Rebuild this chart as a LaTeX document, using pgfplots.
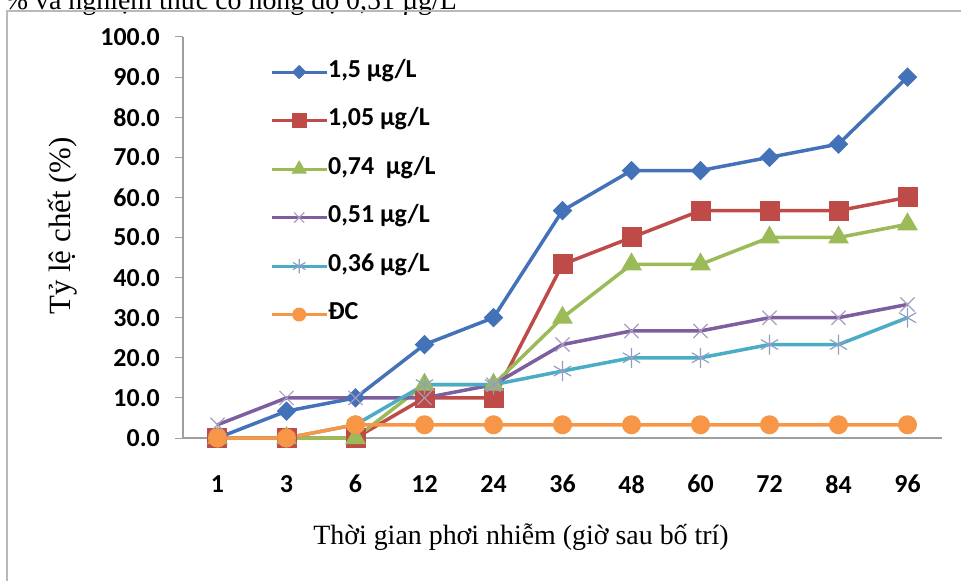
\documentclass[border=0pt]{standalone}
\usepackage{fontspec}
\setmainfont{Liberation Serif}
\newfontfamily\carlito{Carlito}
\usepackage{pgfplots}
\pgfplotsset{compat=1.18}
\definecolor{cblue}{HTML}{4472B8}
\definecolor{cred}{HTML}{BE4B48}
\definecolor{cgreen}{HTML}{9BBB59}
\definecolor{cpurple}{HTML}{7D5FA0}
\definecolor{ccyan}{HTML}{4BACC6}
\definecolor{corange}{HTML}{F79646}
\definecolor{xmark}{HTML}{A89CC0}
\begin{document}
\begin{tikzpicture}
\begin{scope}
\clip (-183bp,-143bp) rectangle (778bp,438bp);
\node[anchor=base east, inner sep=0pt, font=\fontsize{28}{30}\selectfont] at (274bp,428bp) {\% và nghiệm thức có nồng độ 0,51 µg/L};
\end{scope}
\draw[gray!55, line width=2bp] (-176bp,-143bp) -- (-176bp,427bp) -- (778bp,427bp);
\begin{axis}[
  at={(0,0)}, anchor=south west, scale only axis,
  width=759bp, height=401bp,
  xmin=-0.5, xmax=10.5, ymin=0, ymax=100,
  clip=false,
  axis lines*=left,
  axis line style={draw=gray!75, line width=1.2bp},
  xtick={0,...,10},
  xticklabels={1,3,6,12,24,36,48,60,72,84,96},
  xtick style={draw=none},
  ytick={0,10,...,100},
  ytick style={draw=gray!75, line width=1bp},
  tick align=outside, major tick length=8bp,
  /pgf/number format/assume math mode=true,
  /pgf/number format/fixed, /pgf/number format/fixed zerofill,
  /pgf/number format/precision=1,
  tick label style={font=\carlito\bfseries\fontsize{26}{28}\selectfont},
  yticklabel style={anchor=east, inner sep=0pt, xshift=-15bp},
  xticklabel style={anchor=north, inner sep=0pt, yshift=-29bp},
  every axis plot/.append style={line width=3.5bp},
  legend cell align=left,
  legend image code/.code={\draw[#1, line width=3bp, mark repeat=2, mark phase=2, every mark/.append style={scale=0.72}] plot coordinates {(0bp,0bp)(27.5bp,0bp)(55bp,0bp)};},
  legend style={draw=none, fill=none, at={(0.1146,0.938)}, anchor=north west,
    font=\carlito\bfseries\fontsize{26}{28}\selectfont, row sep=28.5bp,
    inner xsep=0pt, inner ysep=0pt,
    nodes={inner sep=0pt, text height=15bp, text depth=5bp}},
]
\addplot[color=cblue, mark=square*, mark size=6.4bp, mark options={rotate=45, line width=1bp}]
  coordinates {(0,0)(1,6.7)(2,10)(3,23.3)(4,30)(5,56.7)(6,66.7)(7,66.7)(8,70)(9,73.3)(10,90)};
\addlegendentry{1,5 µg/L}
\addplot[color=cred, mark=square*, mark size=9.5bp, mark options={line width=1bp}]
  coordinates {(0,0)(1,0)(2,0)(3,10)(4,10)(5,43.3)(6,50)(7,56.7)(8,56.7)(9,56.7)(10,60)};
\addlegendentry{1,05 µg/L}
\addplot[color=cgreen, mark=triangle*, mark size=11bp, mark options={line width=1bp}]
  coordinates {(0,0)(1,0)(2,0)(3,13.3)(4,13.3)(5,30)(6,43.3)(7,43.3)(8,50)(9,50)(10,53.3)};
\addlegendentry{0,74\ \ µg/L}
\addplot[color=cpurple, mark=x, mark size=10bp, mark options={draw=xmark, line width=1.2bp}]
  coordinates {(0,3.3)(1,10)(2,10)(3,10)(4,13.3)(5,23.3)(6,26.7)(7,26.7)(8,30)(9,30)(10,33.3)};
\addlegendentry{0,51 µg/L}
\addplot[color=ccyan, mark=asterisk, mark size=10bp, mark options={draw=xmark!70!ccyan, line width=1.2bp}]
  coordinates {(0,0)(1,0)(2,3.3)(3,13.3)(4,13.3)(5,16.7)(6,20)(7,20)(8,23.3)(9,23.3)(10,30)};
\addlegendentry{0,36 µg/L}
\addplot[color=corange, mark=*, mark size=9bp, mark options={line width=1bp}]
  coordinates {(0,0)(1,0)(2,3.3)(3,3.3)(4,3.3)(5,3.3)(6,3.3)(7,3.3)(8,3.3)(9,3.3)(10,3.3)};
\addlegendentry{ĐC}
\end{axis}
\node[rotate=90, font=\fontsize{31}{34}\selectfont] at (-120bp,212bp) {Tỷ lệ chết (\%)};
\node[font=\fontsize{28}{30}\selectfont] at (338bp,-99bp) {Thời gian phơi nhiễm (giờ sau bố trí)};
\pgfresetboundingbox
\useasboundingbox (-183bp,-143bp) rectangle (778bp,438bp);
\end{tikzpicture}
\end{document}
